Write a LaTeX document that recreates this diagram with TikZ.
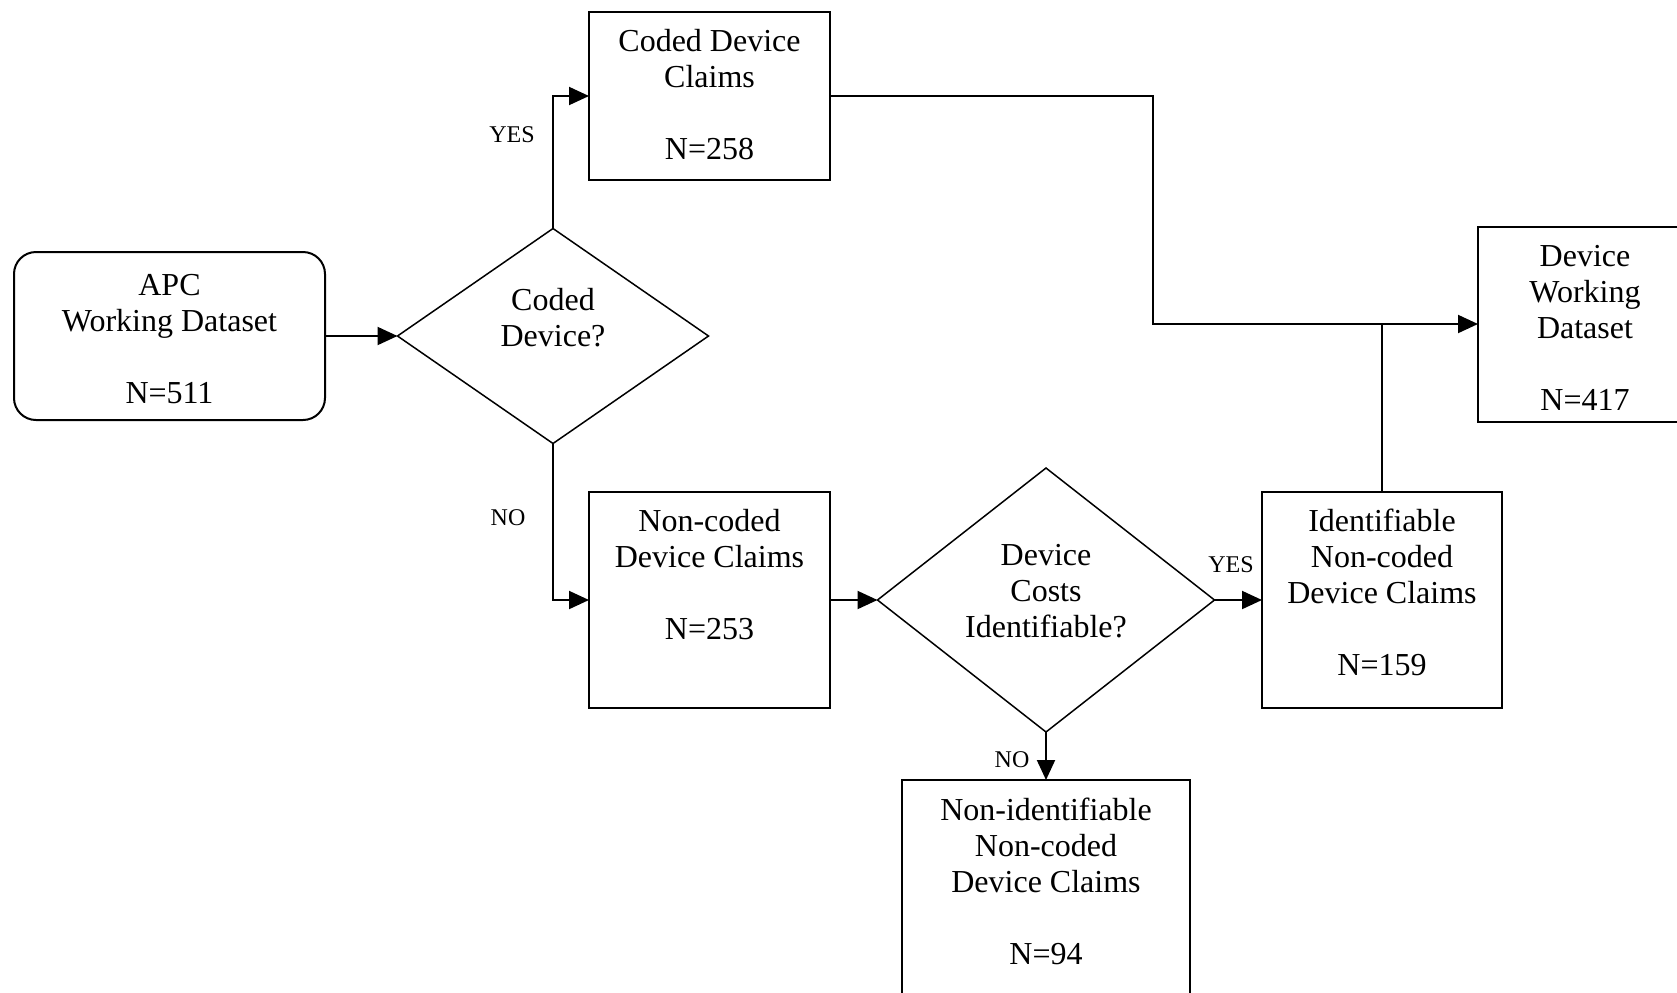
\documentclass[tikz,border=0pt]{standalone}
\usepackage{fontspec}
\setmainfont{Liberation Serif}
\usetikzlibrary{shapes.geometric,arrows.meta}
\tikzset{
  box/.style={draw, line width=1pt, inner sep=0pt, outer sep=0pt, align=center,
    font=\fontsize{16}{18}\selectfont},
  dec/.style={draw, diamond, line width=0.75pt, inner sep=0pt, outer sep=0pt, align=center,
    font=\fontsize{16}{18}\selectfont},
  arr/.style={line width=1pt, -{Triangle[length=10pt,width=9pt]}},
  conn/.style={line width=1pt},
  lbl/.style={font=\fontsize{12}{13}\selectfont, inner sep=0pt}
}
\begin{document}
\begin{tikzpicture}[x=0.5pt,y=-0.5pt]
\clip (0,0) rectangle (1677,992);
\fill[white] (0,0) rectangle (1677,992);
% nodes
\node[box, rounded corners=11pt, minimum width=155.5pt, minimum height=84pt] (apc) at (169.5,336)
  {\rule{0pt}{19pt}APC\\\strut Working Dataset\\\strut\\\strut N=511};
\node[dec, shape aspect=1.45, minimum width=155.5pt, minimum height=107.5pt] (d1) at (553,336)
  {\rule{0pt}{15.8pt}Coded\\\strut Device?\\\strut};
\node[box, minimum width=120.5pt, minimum height=84pt] (coded) at (709.5,96)
  {\rule{0pt}{14.6pt}Coded Device\\\strut Claims\\\strut\\\strut N=258};
\node[box, minimum width=120.5pt, minimum height=108pt] (noncoded) at (709.5,600)
  {\strut Non-coded\\\strut Device Claims\\\strut\\\strut N=253\\\rule[-9.5pt]{0pt}{1pt}};
\node[dec, shape aspect=1.4, minimum width=168.5pt, minimum height=132pt] (d2) at (1046,600)
  {\strut Device\\\strut Costs\\\strut Identifiable?\rule[-11pt]{0pt}{1pt}};
\node[box, minimum width=120pt, minimum height=108pt] (ident) at (1382,600)
  {\strut Identifiable\\\strut Non-coded\\\strut Device Claims\\\strut\\\strut N=159\rule[-9pt]{0pt}{1pt}};
\node[box, minimum width=107pt, minimum height=96pt] (dwd) at (1585,324)
  {\rule{0pt}{20.1pt}Device\\\strut Working\\\strut Dataset\\\strut\\\strut N=417};
\node[box, minimum width=144pt, minimum height=120pt] (nonid) at (1046,900)
  {\strut Non-identifiable\\\strut Non-coded\\\strut Device Claims\\\strut\\\strut N=94\rule[-20.4pt]{0pt}{1pt}};
% connectors
\coordinate (bend) at (1153,324);
\draw[arr] (apc.east) -- (d1.west);
\draw[arr] (d1.north) |- (coded.west);
\draw[arr] (d1.south) |- (noncoded.west);
\draw[arr] (noncoded.east) -- (d2.west);
\draw[arr] (d2.east) -- (ident.west);
\draw[arr] (d2.south) -- (nonid.north);
\draw[arr] (coded.east) -| (bend) -- (dwd.west);
\draw[conn] (ident.north) -- (ident.north |- dwd.west);
% labels
\node[lbl] (yes1) at (512,135) {YES};
\node[lbl] (no1) at (508,518) {NO};
\node[lbl] (yes2) at (1231,565) {YES};
\node[lbl] (no2) at (1012,760) {NO};
\end{tikzpicture}
\end{document}
